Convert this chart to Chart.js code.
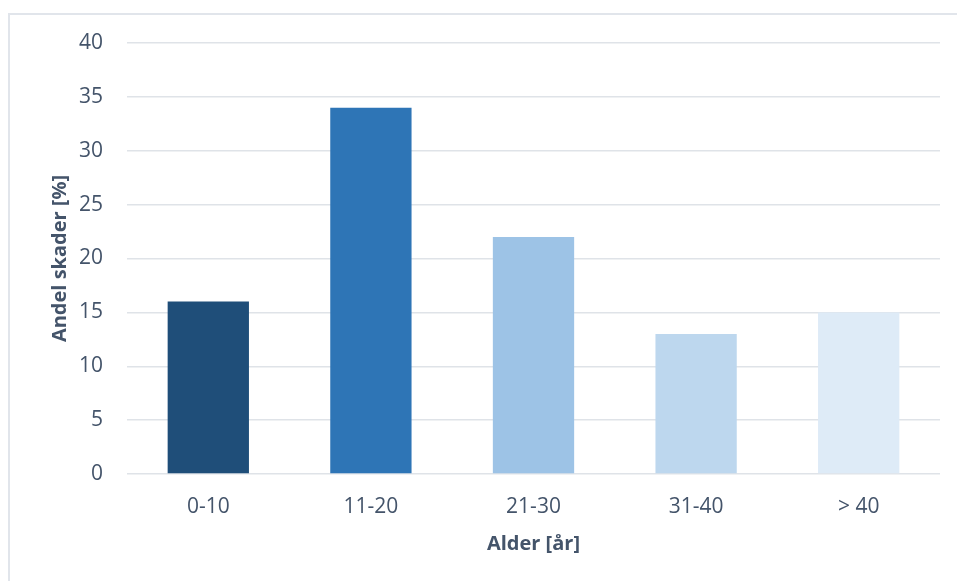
<!DOCTYPE html>
<html>
<head>
<meta charset="utf-8">
<script src="https://cdn.jsdelivr.net/npm/chart.js@4"></script>
<style>
  html, body { margin: 0; padding: 0; background: #ffffff; }
  #wrap { position: relative; width: 957px; height: 581px; overflow: hidden; }
  #frame { position: absolute; left: 8px; top: 13px; width: 970px; height: 600px;
           border: 2px solid #e1e5eb; box-sizing: border-box; }
  canvas { position: absolute; left: 0; top: 0; }
</style>
</head>
<body>
<div id="wrap">
  <div id="frame"></div>
  <canvas id="c" width="957" height="581"></canvas>
</div>
<script>
// Age groups and share of injuries per group
const categories = ['0-10', '11-20', '21-30', '31-40', '> 40'];
const shares = [16, 34, 22, 13, 15];
const barColors = ['#1f4e79', '#2e75b6', '#9dc3e6', '#bdd7ee', '#deebf7'];
const yTicks = [0, 5, 10, 15, 20, 25, 30, 35, 40];

const textColor = '#44546a';
const fontFamily = '"Open Sans", "Liberation Sans", sans-serif';

new Chart(document.getElementById('c'), {
  type: 'bar',
  data: {
    labels: categories,
    datasets: [{
      data: shares,
      backgroundColor: barColors,
      borderWidth: 0,
      barPercentage: 0.5,
      categoryPercentage: 1.0
    }]
  },
  options: {
    responsive: false,
    animation: false,
    devicePixelRatio: 1,
    layout: { padding: { left: 0, right: 17, top: 43, bottom: 0 } },
    plugins: { legend: { display: false }, tooltip: { enabled: false } },
    scales: {
      x: {
        grid: { display: false },
        border: { display: false },
        ticks: { color: textColor, font: { family: fontFamily, size: 21 }, padding: 12 },
        title: {
          display: true, text: 'Alder [år]', color: textColor,
          font: { family: fontFamily, size: 20, weight: 'bold' },
          padding: { top: 0, bottom: 25 }
        },
        afterFit: (s) => { s.height = 107; }
      },
      y: {
        min: 0, max: 40,
        afterBuildTicks: (s) => { s.ticks = yTicks.map(v => ({ value: v })); },
        grid: { color: '#dfe3e8', lineWidth: 1.5, drawTicks: false },
        border: { display: false },
        ticks: { color: textColor, font: { family: fontFamily, size: 21 }, padding: 24 },
        title: {
          display: true, text: 'Andel skader [%]', color: textColor,
          font: { family: fontFamily, size: 20, weight: 'bold' },
          padding: { top: 48, bottom: 0 }
        },
        afterFit: (s) => { s.width = 127; }
      }
    }
  }
});
</script>
</body>
</html>
